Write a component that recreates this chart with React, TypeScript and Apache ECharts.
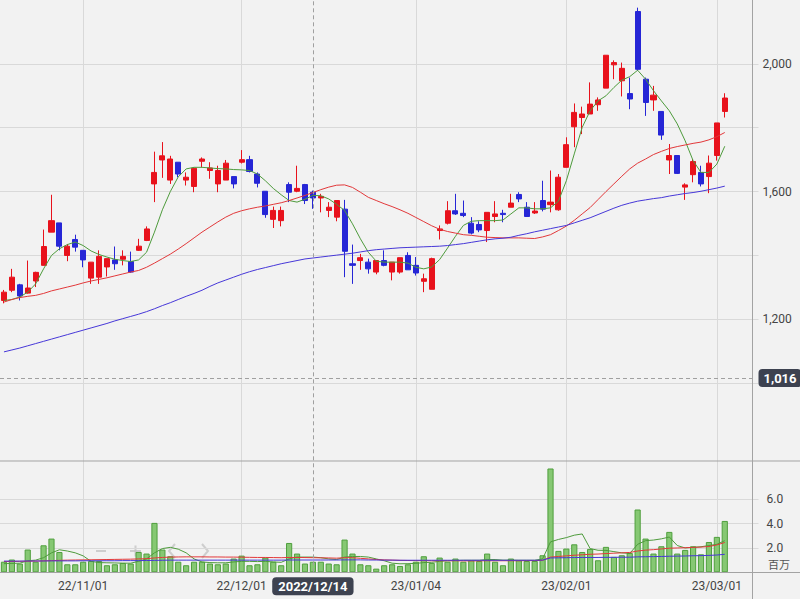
import React, { useEffect, useRef } from 'react';
import * as echarts from 'echarts';

const dates = [
  '2022/10/18','2022/10/19','2022/10/20','2022/10/21','2022/10/24','2022/10/25','2022/10/26','2022/10/27','2022/10/28','2022/10/31',
  '2022/11/01','2022/11/02','2022/11/04','2022/11/07','2022/11/08','2022/11/09','2022/11/10','2022/11/11','2022/11/14','2022/11/15',
  '2022/11/16','2022/11/17','2022/11/18','2022/11/21','2022/11/22','2022/11/24','2022/11/25','2022/11/28','2022/11/29','2022/11/30',
  '2022/12/01','2022/12/02','2022/12/05','2022/12/06','2022/12/07','2022/12/08','2022/12/09','2022/12/12','2022/12/13','2022/12/14',
  '2022/12/15','2022/12/16','2022/12/19','2022/12/20','2022/12/21','2022/12/22','2022/12/23','2022/12/26','2022/12/27','2022/12/28',
  '2022/12/29','2022/12/30','2023/01/04','2023/01/05','2023/01/06','2023/01/10','2023/01/11','2023/01/12','2023/01/13','2023/01/16',
  '2023/01/17','2023/01/18','2023/01/19','2023/01/20','2023/01/23','2023/01/24','2023/01/25','2023/01/26','2023/01/27','2023/01/30',
  '2023/01/31','2023/02/01','2023/02/02','2023/02/03','2023/02/06','2023/02/07','2023/02/08','2023/02/09','2023/02/10','2023/02/13',
  '2023/02/14','2023/02/15','2023/02/16','2023/02/17','2023/02/20','2023/02/21','2023/02/22','2023/02/24','2023/02/27','2023/02/28',
  '2023/03/01','2023/03/02',
];
const padSlots = ['pad1', 'pad2', 'pad3'];

const opens = [
  1259,1291,1308,1282,1320,1369,1473,1502,1400,1450, 1416,1329,1332,1364,1386,1388,1381,1416,1447,1624,
  1699,1636,1692,1636,1616,1695,1666,1624,1636,1647, 1692,1700,1655,1601,1513,1509,1622,1601,1622,1598,
  1580,1541,1520,1545,1374,1384,1379,1348,1384,1348, 1348,1400,1369,1319,1294,1478,1501,1540,1532,1501,
  1497,1478,1522,1532,1551,1591,1551,1533,1572,1559, 1543,1676,1803,1832,1843,1872,1924,1997,1947,1907,
  2164,1952,1887,1851,1699,1713,1614,1653,1660,1647, 1713,1851,
];
const closes = [
  1285,1332,1273,1298,1347,1428,1509,1429,1429,1426, 1386,1379,1397,1390,1374,1397,1348,1429,1483,1660,
  1712,1702,1655,1645,1673,1702,1674,1666,1689,1624, 1700,1663,1626,1528,1541,1541,1598,1610,1572,1580,
  1585,1551,1572,1413,1369,1393,1358,1384,1369,1379, 1393,1355,1345,1327,1390,1483,1540,1530,1525,1470,
  1480,1535,1530,1528,1564,1577,1522,1539,1545,1567, 1645,1747,1848,1843,1874,1887,2027,2004,1986,1890,
  1983,1879,1902,1777,1713,1657,1621,1694,1624,1689, 1815,1893,
];
const lows = [
  1250,1285,1259,1280,1301,1369,1473,1416,1382,1412, 1363,1311,1311,1334,1355,1369,1346,1414,1445,1567,
  1643,1624,1645,1619,1598,1676,1640,1598,1636,1610, 1688,1660,1613,1518,1486,1491,1567,1598,1561,1546,
  1535,1520,1507,1332,1311,1355,1343,1341,1366,1322, 1343,1355,1337,1285,1294,1450,1497,1527,1520,1466,
  1473,1442,1504,1504,1551,1567,1522,1530,1538,1535, 1540,1676,1739,1780,1843,1853,1924,1952,1898,1858,
  1978,1837,1853,1762,1655,1655,1574,1629,1616,1595, 1697,1832,
];
const highs = [
  1292,1358,1311,1384,1349,1481,1590,1502,1436,1465, 1416,1379,1416,1390,1428,1416,1412,1452,1491,1725,
  1755,1712,1692,1660,1675,1707,1692,1681,1699,1647, 1730,1712,1660,1601,1553,1553,1629,1681,1624,1603,
  1593,1567,1572,1574,1434,1405,1390,1384,1416,1379, 1393,1410,1395,1343,1393,1494,1570,1593,1572,1520,
  1507,1535,1570,1543,1593,1598,1567,1567,1634,1666, 1655,1770,1876,1866,1942,1895,2027,2011,2004,1957,
  2176,1957,1931,1851,1749,1713,1626,1702,1681,1713, 1815,1908,
];

const ma5 = [
  1259,1262,1270,1285,1311,1358,1400,1421,1434,1442, 1431,1414,1403,1395,1388,1384,1381,1386,1410,1473,
  1543,1600,1646,1671,1676,1676,1674,1672,1671,1669, 1668,1666,1655,1634,1610,1590,1572,1567,1576,1588,
  1587,1577,1560,1541,1499,1452,1410,1382,1379,1379, 1379,1376,1363,1358,1364,1387,1423,1460,1494,1507,
  1509,1509,1509,1511,1530,1549,1549,1546,1546,1549, 1570,1634,1718,1801,1853,1884,1900,1926,1949,1960,
  1980,1952,1916,1884,1853,1812,1759,1697,1660,1660, 1686,1742,
];
const ma25 = [
  1254,1262,1268,1272,1275,1281,1289,1295,1301,1307, 1314,1320,1325,1330,1336,1342,1348,1353,1363,1376,
  1390,1404,1420,1437,1455,1473,1489,1505,1520,1532, 1540,1546,1551,1555,1560,1565,1572,1580,1588,1597,
  1606,1614,1620,1621,1613,1598,1582,1572,1562,1553, 1543,1532,1519,1506,1493,1482,1475,1470,1465,1463,
  1460,1457,1456,1455,1455,1455,1454,1453,1458,1465, 1478,1492,1510,1530,1550,1575,1600,1624,1648,1671,
  1689,1702,1716,1726,1735,1741,1746,1751,1755,1762, 1772,1785,
];
const ma75 = [
  1098,1104,1110,1117,1124,1131,1138,1145,1152,1159, 1166,1173,1180,1187,1195,1202,1209,1216,1224,1233,
  1243,1252,1262,1272,1281,1291,1303,1314,1323,1332, 1341,1349,1356,1362,1368,1374,1379,1384,1389,1392,
  1395,1398,1401,1404,1407,1411,1415,1418,1420,1422, 1424,1425,1426,1427,1428,1429,1431,1434,1437,1441,
  1445,1449,1452,1454,1457,1463,1468,1474,1479,1484, 1489,1494,1502,1510,1518,1528,1538,1548,1557,1564,
  1570,1574,1578,1581,1586,1590,1594,1597,1601,1606, 1611,1617,
];

const volumes = [
  0.87,1.05,0.72,1.87,0.87,2.22,2.77,1.67,0.66,0.66, 0.87,0.93,0.93,0.58,0.66,0.77,0.72,1.67,1.54,4.06,
  1.87,1.32,0.87,0.58,0.87,0.87,0.72,0.66,0.72,1.13, 1.37,0.58,0.66,1.21,0.87,0.58,2.41,1.54,0.72,0.87,
  0.87,0.72,0.66,2.69,1.54,0.66,0.58,0.30,0.58,0.66, 0.52,0.66,0.87,1.32,0.77,1.21,0.87,1.13,0.87,0.99,
  0.93,1.54,0.87,0.58,1.13,0.99,0.93,0.93,1.40,8.53, 1.76,1.95,2.30,1.67,1.92,0.99,2.09,1.27,1.40,1.59,
  5.16,2.77,1.54,2.14,3.32,1.54,1.84,2.14,1.48,2.49, 2.91,4.22,
];
const volMa5 = [
  0.71,0.73,0.75,0.95,1.0,1.2,1.6,1.85,1.75,1.6, 1.35,0.9,0.8,0.78,0.77,0.75,0.75,0.9,1.1,1.6,
  1.95,2.05,1.9,1.6,1.1,0.85,0.8,0.78,0.78,0.85, 0.9,0.9,0.88,0.9,0.85,0.82,1.1,1.25,1.25,1.25,
  1.2,1.1,1.05,1.25,1.3,1.3,1.25,1.1,0.95,0.75, 0.7,0.71,0.73,0.8,0.82,0.9,0.95,0.97,0.99,0.99,
  0.99,1.05,1.05,1.0,1.0,0.99,0.99,0.99,1.1,2.5, 2.7,2.85,3.05,3.15,1.95,1.81,1.8,1.7,1.6,1.55,
  2.3,2.6,2.65,2.75,2.9,2.2,2.0,2.05,2.1,2.2, 2.3,2.6,
];
const volMa25 = [
  0.88,0.89,0.9,0.91,0.92,0.94,0.96,0.98,1.0,1.01, 1.02,1.03,1.04,1.05,1.06,1.07,1.08,1.1,1.12,1.18,
  1.22,1.25,1.26,1.27,1.27,1.27,1.26,1.26,1.25,1.25, 1.24,1.23,1.22,1.22,1.21,1.2,1.22,1.22,1.21,1.2,
  1.19,1.18,1.16,1.2,1.2,1.15,1.1,1.05,1.02,1.0, 0.98,0.97,0.96,0.96,0.95,0.95,0.95,0.95,0.94,0.94,
  0.94,0.95,0.95,0.95,0.95,0.95,0.96,0.96,0.98,1.25, 1.3,1.35,1.4,1.44,1.48,1.5,1.54,1.57,1.6,1.63,
  1.75,1.82,1.86,1.92,1.98,2.0,2.02,2.05,2.07,2.12, 2.25,2.45,
];
const volMa75 = [
  0.92,0.92,0.92,0.93,0.93,0.93,0.94,0.94,0.94,0.94, 0.95,0.95,0.95,0.95,0.95,0.96,0.96,0.96,0.97,0.98,
  0.99,1.0,1.0,1.0,1.0,1.0,1.0,1.0,1.0,1.0, 1.0,1.0,1.0,1.0,1.0,1.0,1.01,1.01,1.01,1.01,
  1.01,1.01,1.01,1.02,1.02,1.02,1.01,1.01,1.0,1.0, 0.99,0.99,0.99,0.99,0.99,0.99,0.99,0.99,0.99,0.99,
  0.99,0.99,0.99,0.99,0.99,0.99,0.99,0.99,1.0,1.18, 1.19,1.2,1.21,1.22,1.22,1.22,1.23,1.23,1.24,1.24,
  1.27,1.28,1.29,1.3,1.32,1.33,1.34,1.36,1.37,1.39, 1.42,1.48,
];

const monthLabels = ['2022/11/01', '2022/12/01', '2023/01/04', '2023/02/01', '2023/03/01'];
const priceTickValues = [1000, 1200, 1400, 1600, 1800, 2000];
const priceLabelValues = [1200, 1600, 2000];
const volumeTickValues = [2, 4, 6];
const crossDate = '2022/12/14';
const crossDateLabel = '2022/12/14';
const crossPrice = 1016;
const volumeUnit = '百万';

const FONT = 'Roboto, "Noto Sans CJK JP", sans-serif';

export default function App() {
  const ref = useRef<HTMLDivElement>(null);
  useEffect(() => {
    document.body.style.margin = '0';
    const chart = echarts.init(ref.current!, null, { renderer: 'svg' });
    const cats = [...dates, ...padSlots];
    const candles = dates.map((_, i) => [opens[i], closes[i], lows[i], highs[i]]);
    const gl = -3.2;
    const gw = 755.7;
    const axisX = gl + gw;
    const gridColor = '#d9d9d9';
    const sepColor = '#a3a3a3';

    const hiddenCat = (gi: number) => ({
      type: 'category', gridIndex: gi, data: cats, boundaryGap: true,
      axisLine: { show: false }, axisTick: { show: false }, axisLabel: { show: false },
      splitLine: { show: false },
    });

    const option: any = {
      animation: false,
      backgroundColor: '#f2f2f2',
      textStyle: { fontFamily: FONT },
      grid: [
        { left: gl, width: gw, top: -1, height: 462 },
        { left: gl, width: gw, top: 461, height: 111.3 },
        { left: gl, width: gw, top: 0, height: 572.3 },
      ],
      xAxis: [
        hiddenCat(0),
        {
          type: 'category', gridIndex: 1, data: cats, boundaryGap: true,
          axisLine: { show: false }, axisTick: { show: false }, splitLine: { show: false },
          axisLabel: {
            show: true,
            interval: (_i: number, v: string) => monthLabels.includes(v),
            formatter: (v: string) => v.slice(2),
            color: '#444', fontSize: 12, margin: 8, fontFamily: FONT,
          },
        },
        hiddenCat(2),
      ],
      yAxis: [
        {
          type: 'value', gridIndex: 0, position: 'right', min: 756.25, max: 2200,
          axisLine: { show: false },
          axisTick: { show: true, length: 6, lineStyle: { color: gridColor }, customValues: priceTickValues },
          axisLabel: {
            customValues: priceLabelValues,
            formatter: (v: number) => v.toLocaleString('en-US'),
            color: '#444', fontSize: 12, margin: 10, fontFamily: FONT,
          },
          splitLine: { show: true, lineStyle: { color: gridColor, width: 1 } },
        },
        {
          type: 'value', gridIndex: 1, position: 'right', min: 0, max: 9.146,
          axisLine: { show: false },
          axisTick: { show: true, length: 6, lineStyle: { color: gridColor }, customValues: volumeTickValues },
          axisLabel: {
            customValues: volumeTickValues,
            formatter: (v: number) => v.toFixed(1),
            color: '#444', fontSize: 12, margin: 14, fontFamily: FONT,
          },
          splitLine: { show: true, lineStyle: { color: gridColor, width: 1 } },
        },
        { type: 'value', gridIndex: 2, min: 0, max: 1, show: false },
      ],
      series: [
        {
          type: 'line', xAxisIndex: 2, yAxisIndex: 2, data: [], silent: true,
          markLine: {
            silent: true, symbol: 'none', z: 1, animation: false,
            label: { show: false },
            lineStyle: { color: gridColor, type: 'solid', width: 1 },
            data: monthLabels.map((d) => ({ xAxis: d })),
          },
        },
        {
          type: 'candlestick', xAxisIndex: 0, yAxisIndex: 0, data: candles,
          barWidth: '70%',
          itemStyle: {
            color: '#e8121c', color0: '#2626d6',
            borderColor: '#e8121c', borderColor0: '#2626d6', borderWidth: 1,
          },
          markLine: {
            silent: true, symbol: 'none', z: 10, animation: false,
            lineStyle: { color: '#a0a0a0', type: [4, 3], width: 1 },
            label: {
              show: true, position: 'end', distance: 6,
              formatter: crossPrice.toLocaleString('en-US'),
              backgroundColor: '#3d4250', color: '#fff', fontWeight: 'bold',
              fontSize: 13, padding: [3, 5, 2, 5], borderRadius: 4, fontFamily: FONT,
            },
            data: [{ yAxis: crossPrice }],
          },
        },
        { type: 'line', xAxisIndex: 0, yAxisIndex: 0, data: ma5, showSymbol: false, silent: true,
          lineStyle: { color: '#4e9b3c', width: 1 } },
        { type: 'line', xAxisIndex: 0, yAxisIndex: 0, data: ma25, showSymbol: false, silent: true,
          lineStyle: { color: '#e2383a', width: 1 } },
        { type: 'line', xAxisIndex: 0, yAxisIndex: 0, data: ma75, showSymbol: false, silent: true,
          lineStyle: { color: '#4637d8', width: 1 } },
        {
          type: 'bar', xAxisIndex: 1, yAxisIndex: 1, data: volumes, barWidth: '78%',
          itemStyle: { color: '#86c873', borderColor: '#4f9f3d', borderWidth: 1 },
        },
        { type: 'line', xAxisIndex: 1, yAxisIndex: 1, data: volMa5, showSymbol: false, silent: true,
          lineStyle: { color: '#4e9b3c', width: 1 } },
        { type: 'line', xAxisIndex: 1, yAxisIndex: 1, data: volMa25, showSymbol: false, silent: true,
          lineStyle: { color: '#e2383a', width: 1 } },
        { type: 'line', xAxisIndex: 1, yAxisIndex: 1, data: volMa75, showSymbol: false, silent: true,
          lineStyle: { color: '#4637d8', width: 1 } },
        {
          type: 'line', xAxisIndex: 2, yAxisIndex: 2, data: [], silent: true,
          markLine: {
            silent: true, symbol: 'none', z: 10, animation: false,
            lineStyle: { color: '#a0a0a0', type: [4, 3], width: 1 },
            label: {
              show: true, position: 'start', distance: 5,
              formatter: crossDateLabel,
              backgroundColor: '#3d4250', color: '#fff', fontWeight: 'bold',
              fontSize: 13, padding: [3, 6, 2, 6], borderRadius: 4, fontFamily: FONT,
            },
            data: [{ xAxis: crossDate }],
          },
        },
      ],
      graphic: [
        { type: 'line', z: 5, shape: { x1: axisX, y1: 0, x2: axisX, y2: 599 }, style: { stroke: sepColor, lineWidth: 1 } },
        { type: 'line', z: 5, shape: { x1: 0, y1: 461, x2: 800, y2: 461 }, style: { stroke: sepColor, lineWidth: 1 } },
        { type: 'line', z: 5, shape: { x1: 0, y1: 572.5, x2: 800, y2: 572.5 }, style: { stroke: sepColor, lineWidth: 1 } },
        { type: 'text', z: 5, x: 768, y: 558, style: { text: volumeUnit, fill: '#555', fontSize: 11, fontFamily: '"Noto Sans CJK JP", sans-serif' } },
        {
          type: 'group', z: 20, silent: true,
          children: [
            { type: 'line', shape: { x1: 96, y1: 551, x2: 106, y2: 551 }, style: { stroke: '#c4c4c4', lineWidth: 2, opacity: 0.8 } },
            { type: 'line', shape: { x1: 130, y1: 551, x2: 141, y2: 551 }, style: { stroke: '#c4c4c4', lineWidth: 2, opacity: 0.8 } },
            { type: 'line', shape: { x1: 135.5, y1: 545.5, x2: 135.5, y2: 556.5 }, style: { stroke: '#c4c4c4', lineWidth: 2, opacity: 0.8 } },
            { type: 'polyline', shape: { points: [[175, 544], [169, 551], [175, 558]] }, style: { stroke: '#c4c4c4', lineWidth: 2, fill: 'none', opacity: 0.8 } },
            { type: 'polyline', shape: { points: [[202, 544], [208, 551], [202, 558]] }, style: { stroke: '#c4c4c4', lineWidth: 2, fill: 'none', opacity: 0.8 } },
          ],
        },
      ],
    };
    chart.setOption(option);
    return () => chart.dispose();
  }, []);
  return (
    <div
      ref={ref}
      style={{ position: 'fixed', left: 0, top: 0, width: 800, height: 599, background: '#f2f2f2' }}
    />
  );
}
